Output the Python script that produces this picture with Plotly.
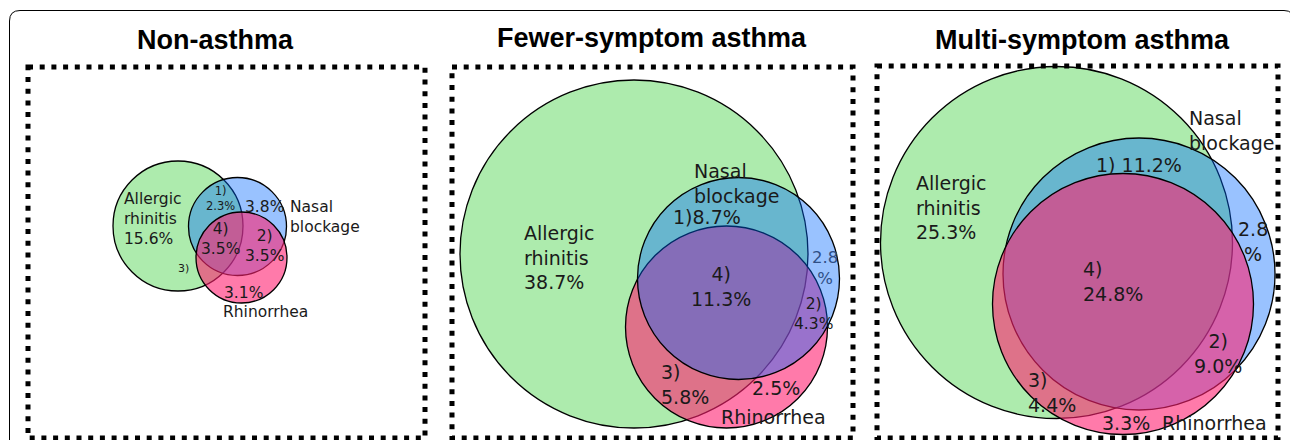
import plotly.graph_objects as go

# ---------------- data ----------------
panel_titles = ["Non-asthma", "Fewer-symptom asthma", "Multi-symptom asthma"]
set_names = ["Allergic rhinitis", "Nasal blockage", "Rhinorrhea"]
allergic_only = [15.6, 38.7, 25.3]
region1_ar_nb = [2.3, 8.7, 11.2]      # 1) allergic rhinitis + nasal blockage
region2_nb_rh = [3.5, 4.3, 9.0]       # 2) nasal blockage + rhinorrhea
region3_ar_rh = [None, 5.8, 4.4]      # 3) allergic rhinitis + rhinorrhea
region4_all = [3.5, 11.3, 24.8]       # 4) all three
nasal_only = [3.8, 2.8, 2.8]
rhino_only = [3.1, 2.5, 3.3]

# ---------------- layout / geometry (pixels) ----------------
W, H = 1290, 440
boxes = [(28, 67, 425, 438), (452, 67, 853, 438), (877, 66, 1278, 438)]
title_pos = [(215, 40), (652, 38), (1082, 40)]
# circles: (cx, cy, r) for allergic, nasal, rhinorrhea
circles = [
    [(178, 226, 65), (237.5, 226.5, 49), (241.5, 257.5, 45.5)],
    [(634, 254, 174), (738.5, 278.5, 101), (726.5, 327, 101)],
    [(1056.5, 242.5, 176), (1139, 274, 136), (1123, 304, 130.5)],
]
# drawing order of circles (indices) per panel
draw_order = [[0, 1, 2], [0, 2, 1], [0, 1, 2]]
fills = ["rgba(50,205,50,0.4)", "rgba(0,102,255,0.4)", "rgba(255,33,113,0.6)"]
label_font = "DejaVu Sans"
fs = [15.5, 19, 19]

fig = go.Figure()

shapes = []
# outer rounded frame
shapes.append(dict(type="path", xref="x", yref="y",
                   path="M 9.5,441 L 9.5,21 Q 9.5,10.5 20,10.5 L 1284,10.5 Q 1294,10.5 1294,21 L 1294,441",
                   line=dict(color="black", width=1), layer="above"))

for p in range(3):
    for idx in draw_order[p]:
        cx, cy, r = circles[p][idx]
        shapes.append(dict(type="circle", xref="x", yref="y",
                           x0=cx - r, x1=cx + r, y0=cy - r, y1=cy + r,
                           fillcolor=fills[idx], line=dict(color="black", width=1.3)))
    x0, y0, x1, y1 = boxes[p]
    shapes.append(dict(type="rect", xref="x", yref="y", x0=x0, y0=y0, x1=x1, y1=y1,
                       line=dict(color="black", width=5, dash="5px,6.7px")))

ann = []


def add(text, x, y, size, xanchor="center", align="center", color="#1a1a1a"):
    ann.append(dict(text=text, x=x, y=y, xref="x", yref="y", showarrow=False,
                    xanchor=xanchor, yanchor="middle", align=align,
                    font=dict(family=label_font, size=size, color=color)))


def pct(v):
    return f"{v:.1f}%"


ar_lines = set_names[0].split(" ")
nb_lines = set_names[1].split(" ")

# titles
for p in range(3):
    ann.append(dict(text=f"<b>{panel_titles[p]}</b>", x=title_pos[p][0], y=title_pos[p][1],
                    xref="x", yref="y", showarrow=False, xanchor="center", yanchor="middle",
                    font=dict(family="Liberation Sans", size=27, color="black")))

# ---- panel 1 ----
s = fs[0]
add(f"{ar_lines[0]}<br>{ar_lines[1]}<br>{pct(allergic_only[0])}", 122, 219, s, "left", "left")
add(f"1)<br>{pct(region1_ar_nb[0])}", 220, 198, 11.5)
add(pct(nasal_only[0]), 264, 207, s)
add(f"{nb_lines[0]}<br>{nb_lines[1]}", 288, 216.5, s, "left", "left")
add(f"4)<br>{pct(region4_all[0])}", 220, 239, s)
add(f"2)<br>{pct(region2_nb_rh[0])}", 264, 245.5, s)
add("3)" if region3_ar_rh[0] is None else f"3)<br>{pct(region3_ar_rh[0])}", 183, 268, 11)
add(pct(rhino_only[0]), 243, 293, s)
add(set_names[2], 265, 312, s)

# ---- panel 2 ----
s = fs[1]
add(f"{ar_lines[0]}<br>{ar_lines[1]}<br>{pct(allergic_only[1])}", 522, 257, s, "left", "left")
add(f"{nb_lines[0]}<br>{nb_lines[1]}", 692, 183.5, s, "left", "left")
add(f"1){pct(region1_ar_nb[1])}", 707, 217, s)
add(f"4)<br>{pct(region4_all[1])}", 721, 286.5, s)
add(f"{pct(nasal_only[1])[:-1]}<br>%", 825, 268, 16.5, color="#2f4f86")
add(f"2)<br>{pct(region2_nb_rh[1])}", 813, 314, 15.5)
add(f"3)<br>{pct(region3_ar_rh[1])}", 659, 384.5, s, "left", "left")
add(pct(rhino_only[1]), 776, 388, s)
add(set_names[2], 773, 417, s)

# ---- panel 3 ----
s = fs[2]
add(f"{ar_lines[0]}<br>{ar_lines[1]}<br>{pct(allergic_only[2])}", 914, 207.5, s, "left", "left")
add(f"{nb_lines[0]}<br>{nb_lines[1]}", 1187, 130, s, "left", "left")
add(f"1) {pct(region1_ar_nb[2])}", 1139, 165, s)
add(f"4)<br>{pct(region4_all[2])}", 1081, 281.5, s, "left", "left")
add(f"{pct(nasal_only[2])[:-1]}<br>%", 1253, 241.5, s)
add(f"2)<br>{pct(region2_nb_rh[2])}", 1218, 353.5, s)
add(f"3)<br>{pct(region3_ar_rh[2])}", 1026, 392.5, s, "left", "left")
add(pct(rhino_only[2]), 1126, 423, s)
add(set_names[2], 1214, 423, s)

fig.update_layout(
    width=W, height=H, margin=dict(l=0, r=0, t=0, b=0),
    paper_bgcolor="white", plot_bgcolor="white",
    xaxis=dict(range=[0, W], visible=False, fixedrange=True),
    yaxis=dict(range=[H, 0], visible=False, fixedrange=True),
    shapes=shapes, annotations=ann, showlegend=False,
)

fig.write_html("out.html", config={"displayModeBar": False})
